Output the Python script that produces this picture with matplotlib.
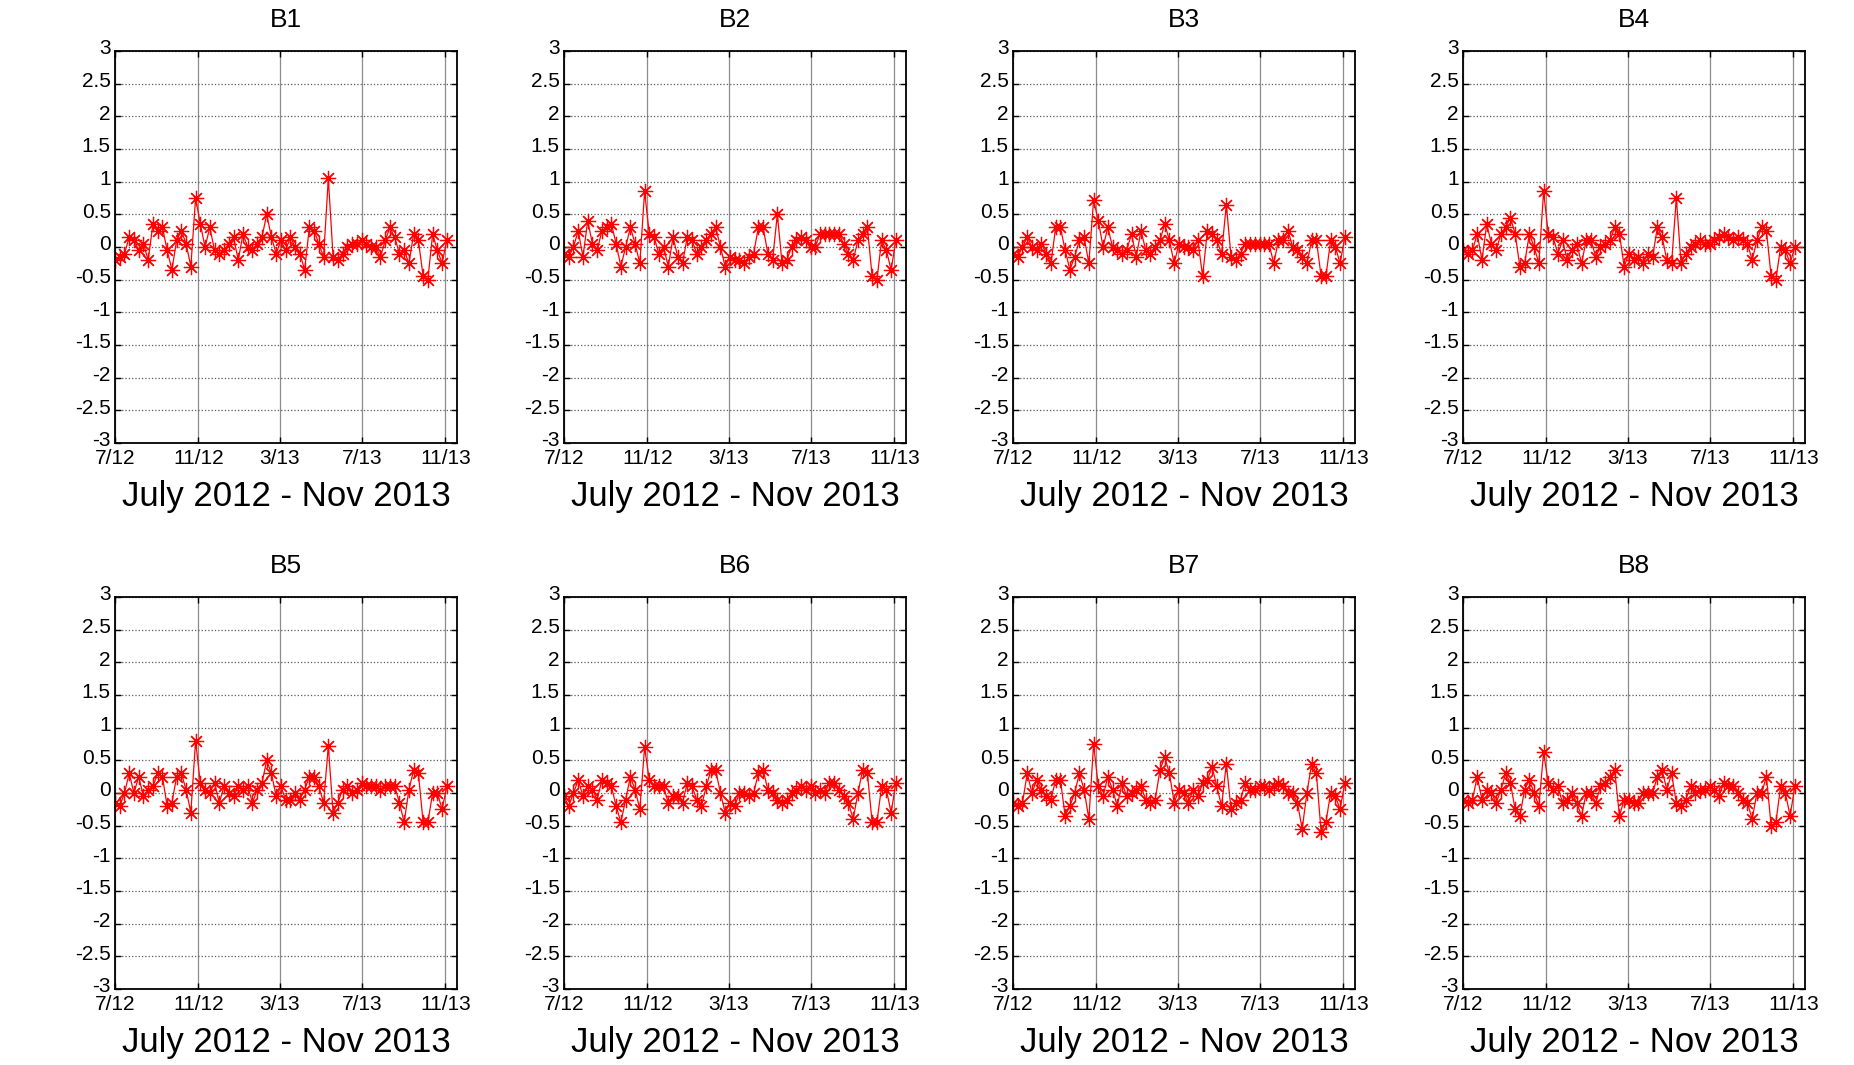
import numpy as np
import pandas as pd
import matplotlib
matplotlib.use("Agg")
import matplotlib.pyplot as plt
from matplotlib.transforms import ScaledTranslation

plt.rcParams['font.family'] = ['Liberation Sans', 'DejaVu Sans']
plt.rcParams['axes.unicode_minus'] = False

# weekly values, July 2012 - Nov 2013
panel_names = ["B1", "B2", "B3", "B4", "B5", "B6", "B7", "B8"]

b1 = [-0.2, -0.15, -0.1, 0.15, 0.1, -0.05, 0.05, -0.2, 0.35, 0.25,
      0.3, -0.05, -0.35, 0.1, 0.25, 0.05, -0.3, 0.75, 0.35, 0.0,
      0.3, -0.05, -0.1, -0.05, 0.05, 0.15, -0.2, 0.2, 0.0, -0.05,
      0.05, 0.15, 0.5, 0.15, -0.1, 0.1, -0.05, 0.15, 0.0, -0.1,
      -0.35, 0.3, 0.25, 0.05, -0.15, 1.05, -0.15, -0.2, -0.1, 0.0,
      0.05, 0.05, 0.1, 0.05, 0.0, 0.0, -0.15, 0.1, 0.3, 0.15,
      -0.1, -0.05, -0.25, 0.2, 0.1, -0.45, -0.5, 0.2, -0.05, -0.25,
      0.1]
b2 = [-0.1, -0.15, 0.0, 0.25, -0.15, 0.4, 0.05, -0.05, 0.25, 0.3,
      0.35, 0.05, -0.3, 0.0, 0.3, 0.05, -0.25, 0.85, 0.2, 0.15,
      -0.1, 0.0, -0.3, 0.15, -0.15, -0.25, 0.15, 0.1, -0.1, 0.0,
      0.1, 0.2, 0.3, 0.0, -0.3, -0.15, -0.2, -0.2, -0.25, -0.15,
      -0.1, 0.3, 0.3, -0.1, -0.2, 0.5, -0.25, -0.2, 0.0, 0.1,
      0.15, 0.1, 0.0, 0.0, 0.2, 0.2, 0.2, 0.2, 0.2, 0.05,
      -0.1, -0.2, 0.1, 0.2, 0.3, -0.45, -0.5, 0.1, -0.05, -0.35,
      0.1]
b3 = [-0.1, -0.15, 0.0, 0.15, 0.0, -0.05, 0.05, -0.1, -0.25, 0.3,
      0.3, -0.05, -0.35, -0.15, 0.1, 0.15, -0.25, 0.72, 0.4, 0.0,
      0.3, 0.0, -0.05, -0.1, -0.05, 0.2, -0.15, 0.25, -0.05, -0.1,
      0.0, 0.1, 0.35, 0.1, -0.25, 0.05, 0.0, 0.0, -0.05, 0.1,
      -0.45, 0.25, 0.2, 0.1, -0.1, 0.65, -0.15, -0.2, -0.1, 0.05,
      0.05, 0.05, 0.05, 0.05, 0.05, -0.25, 0.1, 0.1, 0.25, 0.0,
      -0.05, -0.15, -0.25, 0.1, 0.1, -0.45, -0.45, 0.1, 0.0, -0.25,
      0.15]
b4 = [-0.05, -0.1, -0.05, 0.2, -0.2, 0.35, 0.05, -0.05, 0.2, 0.3,
      0.45, 0.2, -0.3, -0.25, 0.2, 0.0, -0.25, 0.85, 0.2, 0.15,
      -0.1, 0.1, -0.2, -0.05, 0.05, -0.25, 0.1, 0.1, -0.15, 0.0,
      0.05, 0.1, 0.3, 0.2, -0.3, -0.1, -0.2, -0.15, -0.25, -0.1,
      -0.15, 0.3, 0.15, -0.2, -0.25, 0.75, -0.25, -0.1, 0.0, 0.05,
      0.1, 0.05, 0.05, 0.1, 0.15, 0.2, 0.15, 0.1, 0.15, 0.1,
      0.05, -0.2, 0.1, 0.3, 0.25, -0.45, -0.5, 0.0, -0.05, -0.25,
      0.0]
b5 = [-0.15, -0.2, 0.0, 0.3, 0.0, 0.25, -0.05, 0.05, 0.1, 0.3,
      0.25, -0.2, -0.15, 0.25, 0.3, 0.05, -0.3, 0.8, 0.15, 0.05,
      0.0, 0.15, -0.15, 0.1, 0.0, -0.05, 0.1, 0.05, 0.1, -0.15,
      0.05, 0.15, 0.5, 0.3, -0.05, 0.1, -0.1, -0.1, 0.0, -0.1,
      0.05, 0.25, 0.25, 0.1, -0.15, 0.72, -0.3, -0.15, 0.05, 0.1,
      0.0, 0.05, 0.15, 0.1, 0.1, 0.1, 0.05, 0.1, 0.1, 0.1,
      -0.15, -0.45, 0.05, 0.35, 0.3, -0.45, -0.45, 0.0, 0.0, -0.25,
      0.1]
b6 = [-0.05, -0.2, 0.0, 0.2, -0.05, 0.1, 0.05, -0.1, 0.2, 0.15,
      0.1, -0.2, -0.45, -0.1, 0.25, 0.05, -0.25, 0.7, 0.2, 0.1,
      0.1, 0.1, -0.15, -0.05, -0.05, -0.15, 0.15, 0.1, -0.1, -0.2,
      0.1, 0.35, 0.35, 0.0, -0.3, -0.15, -0.2, 0.0, 0.0, -0.05,
      0.0, 0.3, 0.35, 0.05, 0.0, -0.1, -0.15, -0.1, 0.0, 0.05,
      0.1, 0.05, 0.1, 0.0, 0.05, 0.0, 0.15, 0.15, 0.05, -0.05,
      -0.15, -0.4, 0.0, 0.35, 0.3, -0.45, -0.45, 0.1, 0.05, -0.3,
      0.15]
b7 = [-0.15, -0.2, -0.15, 0.3, 0.0, 0.2, 0.05, -0.05, -0.1, 0.2,
      0.2, -0.35, -0.2, 0.0, 0.3, 0.05, -0.4, 0.75, 0.1, -0.05,
      0.25, 0.05, -0.2, 0.15, -0.05, 0.0, 0.05, 0.1, -0.1, -0.15,
      -0.1, 0.35, 0.55, 0.3, -0.15, 0.05, 0.0, -0.15, 0.05, -0.05,
      0.15, 0.2, 0.4, 0.1, -0.2, 0.45, -0.25, -0.15, -0.1, 0.15,
      0.05, 0.05, 0.1, 0.1, 0.05, 0.1, 0.15, 0.1, 0.0, 0.0,
      -0.15, -0.55, 0.0, 0.45, 0.3, -0.6, -0.45, 0.0, -0.05, -0.25,
      0.15]
b8 = [-0.1, -0.15, -0.1, 0.25, -0.1, 0.05, 0.0, -0.15, 0.05, 0.3,
      0.15, -0.25, -0.35, 0.05, 0.2, 0.0, -0.2, 0.62, 0.15, 0.05,
      0.1, -0.15, -0.1, 0.0, -0.15, -0.35, 0.0, 0.0, -0.15, 0.1,
      0.15, 0.25, 0.35, -0.35, -0.1, -0.1, -0.15, -0.15, 0.0, 0.0,
      0.0, 0.25, 0.35, 0.05, 0.3, -0.15, -0.2, -0.1, 0.1, 0.0,
      0.05, 0.05, 0.1, 0.05, -0.05, 0.15, 0.1, 0.1, 0.0, -0.1,
      -0.15, -0.4, 0.0, 0.0, 0.25, -0.5, -0.45, 0.1, 0.0, -0.35,
      0.1]
panel_values = [b1, b2, b3, b4, b5, b6, b7, b8]

tick_dates = pd.to_datetime(["2012-07-01", "2012-11-01", "2013-03-01", "2013-07-01", "2013-11-01"])
tick_labels = ["7/12", "11/12", "3/13", "7/13", "11/13"]
y_ticks = [-3, -2.5, -2, -1.5, -1, -0.5, 0, 0.5, 1, 1.5, 2, 2.5, 3]
x_label = "July 2012 - Nov 2013"

W, H = 1854, 1065
fig = plt.figure(figsize=(W / 100, H / 100), dpi=100)

col_left = [115, 564, 1013, 1463]
row_top = [51, 597]
ax_w, ax_h = 342, 392
lift = ScaledTranslation(0, 3 / 72, fig.dpi_scale_trans)

for k, (name, vals) in enumerate(zip(panel_names, panel_values)):
    r, c = divmod(k, 4)
    ax = fig.add_axes([col_left[c] / W, 1 - (row_top[r] + ax_h) / H, ax_w / W, ax_h / H])
    dates = pd.date_range("2012-07-01", periods=len(vals), freq="7D")
    ax.plot(dates, vals, color="red", lw=0.9, marker=(8, 2, 0), ms=11, mew=0.9)

    ax.set_ylim(-3, 3)
    ax.set_xlim(pd.Timestamp("2012-07-01"), pd.Timestamp("2013-11-18"))
    ax.set_yticks(y_ticks)
    ax.set_yticklabels([f"{v:g}" for v in y_ticks])
    ax.set_xticks(tick_dates)
    ax.set_xticklabels(tick_labels)
    ax.tick_params(direction="in", length=4, width=1, labelsize=15, top=True, right=True)
    ax.tick_params(axis="x", pad=4)
    ax.tick_params(axis="y", pad=3)
    for lab in ax.get_yticklabels():
        lab.set_transform(lab.get_transform() + lift)
    ax.xaxis.grid(True, color="0.55", lw=0.9, ls="-")
    ax.yaxis.grid(True, color="0.35", lw=0.9, ls=":")
    for s in ax.spines.values():
        s.set_linewidth(1.3)
    ax.set_title(name, fontsize=19, pad=17)
    ax.set_xlabel(x_label, fontsize=25, labelpad=9)

fig.savefig("out.png", dpi=100)
